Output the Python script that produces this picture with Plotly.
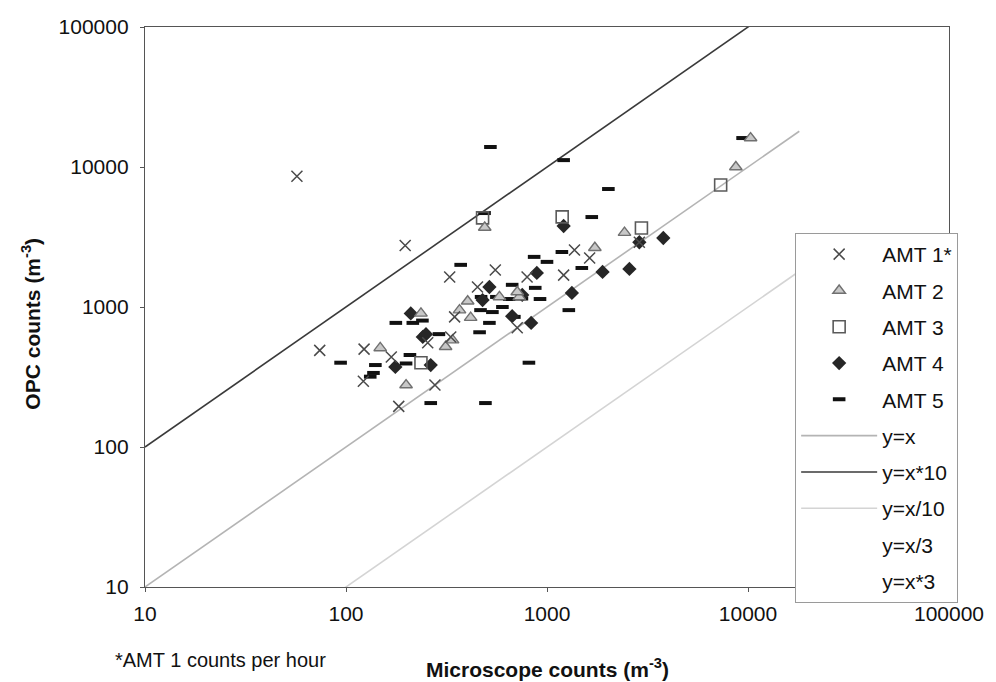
import plotly.graph_objects as go

# ---- data ----
amt1_x = [57, 197, 74, 123, 122, 183, 168, 328, 553, 347, 711, 255, 277, 796, 1210, 451, 332, 1370, 1630, 2880]
amt1_y = [8600, 2750, 490, 500, 295, 195, 440, 1640, 1840, 850, 710, 555, 277, 1640, 1690, 1390, 610, 2550, 2240, 2900]

amt2_x = [10300, 8700, 490, 2430, 1730, 148, 199, 236, 403, 417, 313, 339, 728, 580, 367, 711]
amt2_y = [16100, 10000, 3700, 3400, 2650, 510, 277, 900, 1100, 840, 520, 580, 1180, 1180, 950, 1280]

amt3_x = [478, 1190, 2950, 7310, 236]
amt3_y = [4330, 4400, 3670, 7430, 400]

amt4_x = [3790, 2570, 1890, 1210, 1330, 834, 890, 753, 517, 478, 210, 241, 176, 2880, 264, 250, 671]
amt4_y = [3110, 1870, 1780, 3790, 1260, 770, 1750, 1220, 1390, 1120, 900, 611, 373, 2900, 385, 640, 860]

amt5_x = [523, 1210, 2020, 489, 1670, 9400, 372, 863, 1000, 1186, 671, 874, 923, 649, 467, 535, 688,
          517, 462, 813, 494, 264, 94, 140, 137, 132, 177, 215, 208, 199, 1284, 1490, 560, 470, 290,
          240, 600, 750]
amt5_y = [13900, 11200, 6960, 4690, 4390, 16100, 2000, 2280, 2100, 2470, 1440, 1370, 1140, 1140, 950,
          920, 850, 770, 660, 400, 206, 206, 400, 385, 338, 318, 770, 770, 454, 395, 950, 1900, 1180,
          1180, 640, 800, 1000, 1150]

line_x = [10, 18000]
ratio_names = ["y=x", "y=x*10", "y=x/10", "y=x/3", "y=x*3"]
ratio_vals = [1, 10, 0.1, 1 / 3, 3]
ratio_colors = ["#b4b4b4", "#3a3a3a", "#d4d4d4", "#ffffff", "#ffffff"]

tick_vals = [10, 100, 1000, 10000, 100000]
tick_text = ["10", "100", "1000", "10000", "100000"]

FONT = "Liberation Sans, Arial, sans-serif"
FS = 21

fig = go.Figure()

# reference lines (drawn first, listed last in legend)
for i, (nm, r, c) in enumerate(zip(ratio_names, ratio_vals, ratio_colors)):
    fig.add_trace(go.Scatter(
        x=line_x, y=[v * r for v in line_x], mode="lines", name=nm,
        line=dict(color=c, width=1.6), legendgroup=nm, legendrank=6 + i,
        hoverinfo="skip"))

fig.add_trace(go.Scatter(x=amt5_x, y=amt5_y, mode="markers", name="AMT 5", legendgroup="a5", legendrank=5,
                         marker=dict(symbol="line-ew-open", size=9, color="#111111",
                                     line=dict(color="#111111", width=4))))
fig.add_trace(go.Scatter(x=amt4_x, y=amt4_y, mode="markers", name="AMT 4", legendgroup="a4", legendrank=4,
                         marker=dict(symbol="diamond", size=11, color="#262626",
                                     line=dict(color="#262626", width=0))))
fig.add_trace(go.Scatter(x=amt3_x, y=amt3_y, mode="markers", name="AMT 3", legendgroup="a3", legendrank=3,
                         marker=dict(symbol="square-open", size=12, color="#5a5a5a",
                                     line=dict(color="#5a5a5a", width=1.6))))
fig.add_trace(go.Scatter(x=amt2_x, y=amt2_y, mode="markers", name="AMT 2", legendgroup="a2", legendrank=2,
                         marker=dict(symbol="triangle-up", size=11, color="#c8c8c8",
                                     line=dict(color="#707070", width=1.4))))
fig.add_trace(go.Scatter(x=amt1_x, y=amt1_y, mode="markers", name="AMT 1*", legendgroup="a1", legendrank=1,
                         marker=dict(symbol="x-thin-open", size=11, color="#4a4a4a",
                                     line=dict(color="#4a4a4a", width=1.5))))

axis_common = dict(
    type="log", showgrid=False, zeroline=False, showline=True, linecolor="#555555", linewidth=1.3,
    mirror=True, ticks="outside", ticklen=4, tickcolor="#555555",
    tickvals=tick_vals, ticktext=tick_text, tickfont=dict(family=FONT, size=FS, color="#111111"),
)

fig.update_xaxes(range=[1, 5], ticklabelstandoff=4, **axis_common)
fig.update_yaxes(range=[1, 5], ticklabelstandoff=7, **axis_common)

fig.update_layout(
    width=996, height=682,
    margin=dict(l=145, r=41, t=27, b=95),
    paper_bgcolor="white", plot_bgcolor="white",
    font=dict(family=FONT, size=FS, color="#111111"),
    showlegend=True,
    legend=dict(
        x=(800 - 145) / 810, xanchor="left", y=(587 - 233) / 560, yanchor="top",
        bgcolor="white", bordercolor="#9a9a9a", borderwidth=1,
        traceorder="grouped", tracegroupgap=6, itemwidth=76,
        font=dict(family=FONT, size=FS, color="#111111"),
    ),
    annotations=[
        dict(text="<b>Microscope counts (m<sup>-3</sup>)</b>", xref="paper", yref="paper",
             x=0.5, y=-0.145, xanchor="center", yanchor="middle", showarrow=False,
             font=dict(family=FONT, size=FS)),
        dict(text="<b>OPC counts (m<sup>-3</sup>)</b>", xref="paper", yref="paper",
             x=-0.142, y=0.47, xanchor="center", yanchor="middle", textangle=-90, showarrow=False,
             font=dict(family=FONT, size=FS)),
        dict(text="*AMT 1 counts per hour", xref="paper", yref="paper",
             x=(113 - 145) / 810, y=-0.13, xanchor="left", yanchor="middle", showarrow=False,
             font=dict(family=FONT, size=FS - 1)),
    ],
)

fig.write_html("out.html")
